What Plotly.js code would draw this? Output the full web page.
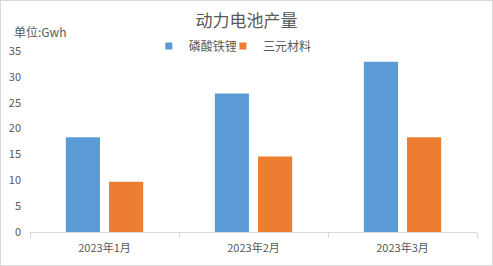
<!DOCTYPE html>
<html><head><meta charset="utf-8">
<script src="https://cdn.plot.ly/plotly-3.0.1.min.js"></script>
<style>body{margin:0;background:#fff}#chart{width:491px;height:264px;border:1px solid #d9d9d9}</style>
</head><body><div id="chart"></div>
<script>
const categories = ["2023年1月", "2023年2月", "2023年3月"];
const seriesNames = ["磷酸铁锂", "三元材料"];
const lfp = [18.3, 26.8, 32.9];
const ternary = [9.7, 14.6, 18.3];
const yTicks = [0, 5, 10, 15, 20, 25, 30, 35];
const colors = ["#5B9BD5", "#ED7D31"];

const font = "'Noto Sans CJK SC', 'Microsoft YaHei', sans-serif";
const grey = "#595959";

const data = [
  {type: "bar", name: seriesNames[0], x: categories, y: lfp, marker: {color: colors[0]}, showlegend: false, legendgroup: "a"},
  {type: "bar", name: seriesNames[1], x: categories, y: ternary, marker: {color: colors[1]}, showlegend: false, legendgroup: "b"},
  {type: "scatter", mode: "markers", name: seriesNames[0], x: [null], y: [null], marker: {symbol: "square", size: 7, color: colors[0]}, legendgroup: "a", legend: "legend"},
  {type: "scatter", mode: "markers", name: seriesNames[1], x: [null], y: [null], marker: {symbol: "square", size: 7, color: colors[1]}, legendgroup: "b", legend: "legend2"}
];
const legendBase = {orientation: "h", xanchor: "left", xref: "container", y: 0.83, yref: "container", yanchor: "middle", font: {size: 12, color: grey}, itemwidth: 30, bgcolor: "rgba(0,0,0,0)"};
const layout = {
  width: 491, height: 264,
  margin: {l: 29, r: 15, t: 50, b: 33, autoexpand: false},
  paper_bgcolor: "#fff", plot_bgcolor: "#fff",
  font: {family: font, color: grey, size: 11},
  title: {text: "动力电池产量", font: {size: 17, color: grey, family: font}, x: 0.5, xanchor: "center", y: 0.925, yanchor: "middle"},
  barmode: "group", bargap: 0.42, bargroupgap: 0.21,
  showlegend: true,
  legend: Object.assign({}, legendBase, {x: 0.301}),
  legend2: Object.assign({}, legendBase, {x: 0.452}),
  xaxis: {type: "category", showgrid: false, showline: true, linecolor: "#d9d9d9", linewidth: 1, ticks: "outside", tickson: "boundaries", ticklen: 5, tickcolor: "#d9d9d9", tickfont: {size: 11, color: grey}, zeroline: false, ticklabelstandoff: 6},
  yaxis: {range: [0, 35], tickvals: yTicks, showgrid: false, zeroline: false, showline: false, ticks: "", tickfont: {size: 11, color: grey}, ticklabelstandoff: 8},
  annotations: [{text: "单位:Gwh", xref: "paper", yref: "paper", x: -0.04, xanchor: "left", y: 1.105, yanchor: "middle", showarrow: false, font: {size: 12, color: grey}}]
};
Plotly.newPlot("chart", data, layout, {staticPlot: true, displayModeBar: false});
</script></body></html>
